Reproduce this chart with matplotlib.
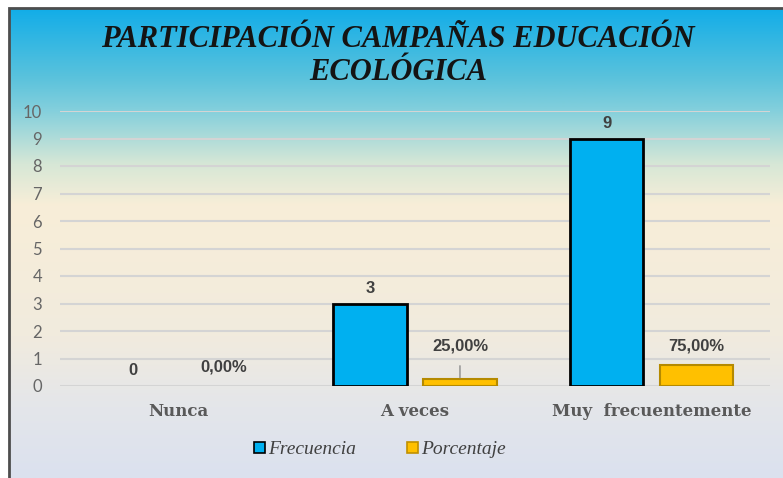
import numpy as np
import matplotlib.pyplot as plt
from matplotlib.colors import LinearSegmentedColormap
from matplotlib.patches import Patch, Rectangle

categorias = ["Nunca", "A veces", "Muy  frecuentemente"]
frecuencia = [0, 3, 9]
porcentaje = [0.00, 0.25, 0.75]
etiquetas_pct = ["0,00%", "25,00%", "75,00%"]
titulo = ["PARTICIPACIÓN CAMPAÑAS EDUCACIÓN", "ECOLÓGICA"]

AZUL = "#00B0F0"
ORO = "#FFC000"

fig = plt.figure(figsize=(7.83, 4.78), dpi=100)
W, H = 783, 478

# fondo degradado del gráfico
bg = fig.add_axes([9 / W, 0, 1 - 9 / W, (H - 8) / H], zorder=0)
stops = [(0.0, "#12ade8"), (0.15, "#5cc3dc"), (0.22, "#86d0dc"),
         (0.33, "#d6e7d6"), (0.42, "#f8eed8"), (0.70, "#f1ebde"),
         (0.85, "#e4e6ea"), (1.0, "#dbe1ef")]
cmap = LinearSegmentedColormap.from_list("fondo", stops)
grad = np.linspace(0, 1, 256).reshape(-1, 1)
bg.imshow(grad, aspect="auto", cmap=cmap, extent=[0, 1, 0, 1], origin="upper")
bg.set_axis_off()
fig.add_artist(Rectangle((9 / W, -0.02), 1.1, (H - 8) / H + 0.02,
                         transform=fig.transFigure, fill=False,
                         edgecolor="#4d4d4d", linewidth=2, zorder=5))

ax = fig.add_axes([60 / W, (H - 386) / H, 710 / W, 275 / H], zorder=2)
ax.set_facecolor("none")
x = np.arange(len(categorias))
off, w = 0.19, 0.31

lw_f = [2 if v > 0 else 0 for v in frecuencia]
lw_p = [1.5 if v > 0 else 0 for v in porcentaje]
ax.bar(x - off, frecuencia, w, color=AZUL, edgecolor="black", linewidth=lw_f, zorder=3)
ax.bar(x + off, porcentaje, w, color=ORO, edgecolor="#b58a00", linewidth=lw_p, zorder=3)

lab = dict(ha="center", va="center", fontsize=12, fontweight="bold",
           color="#404040", family="Liberation Sans")
for xi, v in zip(x - off, frecuencia):
    ax.annotate(str(v), (xi, v), xytext=(0, 11), textcoords="offset points", **lab)
for xi, v, t in zip(x + off, porcentaje, etiquetas_pct):
    if 0 < v < 0.5:
        ax.annotate(t, (xi, v), xytext=(0, 24), textcoords="offset points",
                    arrowprops=dict(arrowstyle="-", color="#8c8c8c", lw=1,
                                    shrinkA=7, shrinkB=1), **lab)
    else:
        ax.annotate(t, (xi, v), xytext=(0, 14), textcoords="offset points", **lab)

ax.set_xlim(-0.5, 2.5)
ax.set_ylim(0, 10)
ax.set_yticks(range(0, 11))
ax.set_xticks(x)
ax.set_xticklabels(categorias, fontsize=12, fontweight="bold",
                   family="DejaVu Serif", color="#595959")
ax.tick_params(axis="x", length=0, pad=12)
ax.tick_params(axis="y", length=0, pad=13, labelsize=12, labelcolor="#666666")
for t in ax.get_yticklabels():
    t.set_family("Lato")
ax.grid(axis="y", color="#d4d4d4", linewidth=1.5, zorder=0)
for s in ax.spines.values():
    s.set_visible(False)

for linea, yb in zip(titulo, [47, 80]):
    fig.text(398 / W, (H - yb) / H, linea, ha="center", va="baseline",
             fontsize=22, fontweight="bold", fontstyle="italic",
             family="Liberation Serif", color="#141414", zorder=6)

handles = [Patch(facecolor=AZUL, edgecolor="black", linewidth=1.2, label="Frecuencia"),
           Patch(facecolor=ORO, edgecolor="#c09000", linewidth=1.2, label="Porcentaje")]
fig.legend(handles=handles, loc="center", bbox_to_anchor=(380 / W, (H - 450) / H),
           ncol=2, frameon=False, handlelength=0.55, handleheight=0.55,
           handletextpad=0.2, columnspacing=2.6,
           prop=dict(family="Liberation Serif", style="italic", size=14))
for t in fig.legends[0].get_texts():
    t.set_color("#404040")

fig.savefig("out.png", dpi=100)
